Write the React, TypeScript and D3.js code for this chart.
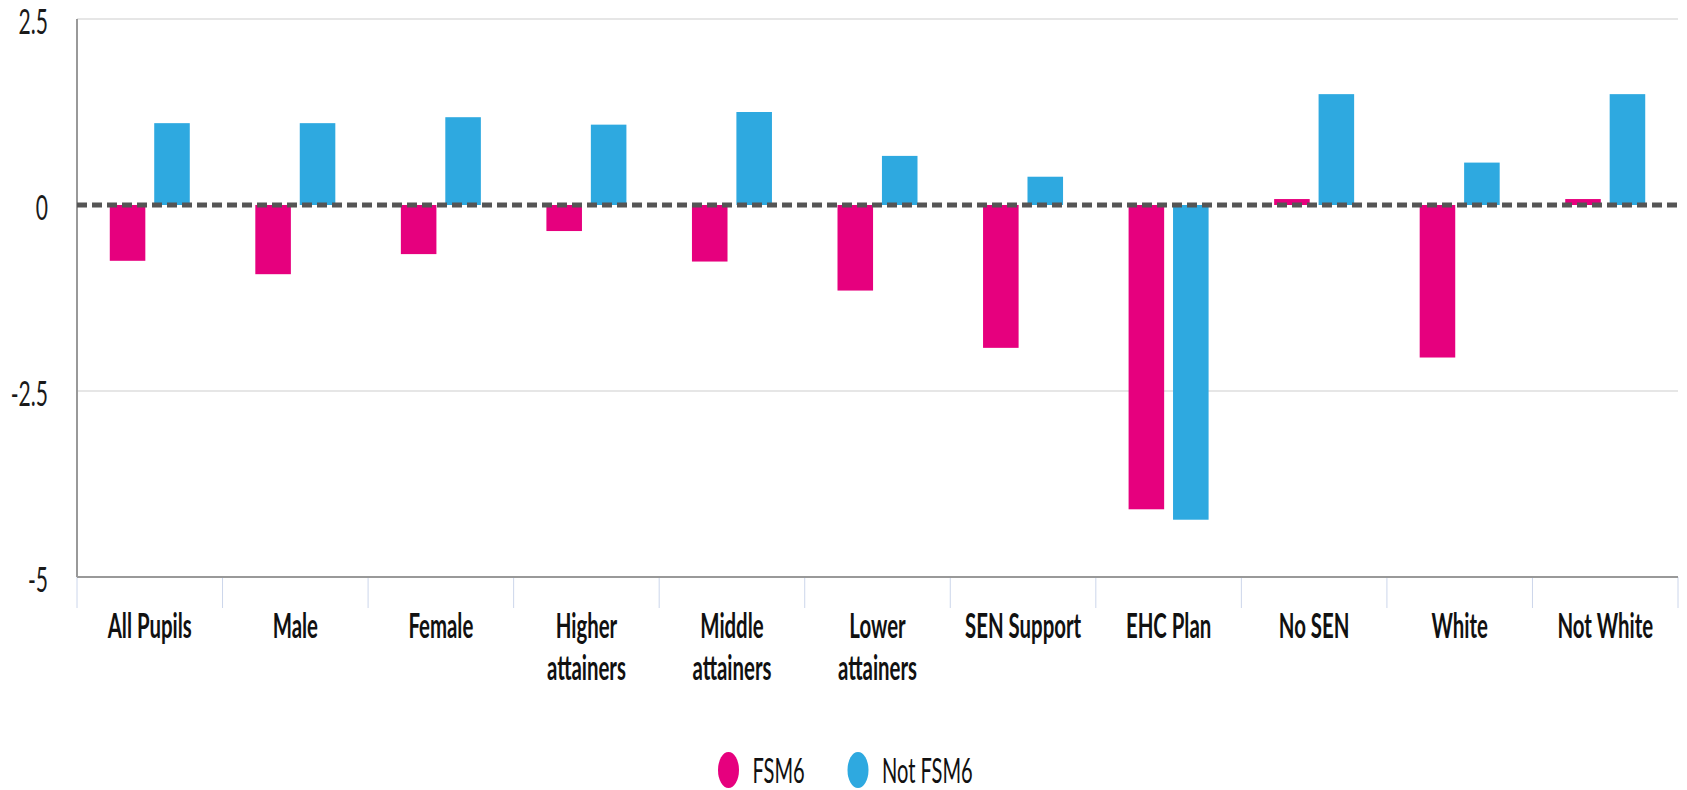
import React from "react";
import * as d3 from "d3";

const categories: string[][] = [
  ["All Pupils"],
  ["Male"],
  ["Female"],
  ["Higher", "attainers"],
  ["Middle", "attainers"],
  ["Lower", "attainers"],
  ["SEN Support"],
  ["EHC Plan"],
  ["No SEN"],
  ["White"],
  ["Not White"],
];
const fsm6: number[] = [-0.75, -0.93, -0.66, -0.35, -0.76, -1.15, -1.92, -4.09, 0.08, -2.05, 0.08];
const notFsm6: number[] = [1.1, 1.1, 1.18, 1.08, 1.25, 0.66, 0.38, -4.23, 1.49, 0.57, 1.49];
const seriesNames = ["FSM6", "Not FSM6"];
const seriesColors = ["#e6007e", "#2ea9e0"];
const yTicks: number[] = [2.5, 0, -2.5, -5];
const yTickLabels: string[] = ["2.5", "0", "-2.5", "-5"];

const W = 1687;
const H = 790;
const left = 77;
const right = 1678;
const top = 19;
const bottom = 577;

const FONT = "Lato, 'Open Sans', sans-serif";

export default function App() {
  const x0 = d3
    .scaleBand<number>()
    .domain(categories.map((_, i) => i))
    .range([left, right])
    .paddingInner(0)
    .paddingOuter(0);
  const bw = x0.bandwidth();
  const x1 = d3
    .scaleBand<number>()
    .domain([0, 1])
    .range([bw / 2 - 40, bw / 2 + 40])
    .paddingInner(0.2);
  const y = d3.scaleLinear().domain([-5, 2.5]).range([bottom, top]);
  const series = [fsm6, notFsm6];

  const tickXs = categories.map((_, i) => x0(i)!).concat([right]);

  return (
    <svg
      width={W}
      height={H}
      style={{ position: "absolute", left: 0, top: 0, background: "#fff" }}
    >
      {/* gridlines */}
      {yTicks
        .filter((t) => t !== 0 && t !== -5)
        .map((t) => (
          <line key={"g" + t} x1={left} x2={right} y1={y(t)} y2={y(t)} stroke="#e6e6e6" strokeWidth={2} />
        ))}
      {/* category ticks */}
      {tickXs.map((tx, i) => (
        <line key={"t" + i} x1={tx} x2={tx} y1={bottom} y2={608} stroke="#ccd6eb" strokeWidth={1} />
      ))}
      {/* bars */}
      {series.map((vals, s) =>
        vals.map((v, i) => {
          const y0 = y(0);
          const yv = y(v);
          return (
            <rect
              key={s + "-" + i}
              x={x0(i)! + x1(s)!}
              width={x1.bandwidth()}
              y={Math.min(y0, yv)}
              height={Math.abs(yv - y0)}
              fill={seriesColors[s]}
            />
          );
        })
      )}
      {/* axes */}
      <line x1={left} x2={left} y1={top} y2={bottom} stroke="#999" strokeWidth={2} />
      <line x1={left} x2={right} y1={bottom} y2={bottom} stroke="#999" strokeWidth={2} />
      {/* zero dashed line */}
      <line
        x1={left}
        x2={right}
        y1={y(0)}
        y2={y(0)}
        stroke="#555"
        strokeWidth={5}
        strokeDasharray="10,5"
      />
      {/* y labels */}
      {yTicks.map((t, i) => (
        <text
          key={"yl" + t}
          transform={`translate(48,${y(t) + 15}) scale(0.62,1)`}
          textAnchor="end"
          fontFamily={FONT}
          fontSize={34}
          fill="#1a1a1a"
        >
          {yTickLabels[i]}
        </text>
      ))}
      {/* category labels */}
      {categories.map((lines, i) => {
        const cx = x0(i)! + bw / 2;
        return (
          <text
            key={"c" + i}
            transform={`translate(${cx},638) scale(0.6,1)`}
            textAnchor="middle"
            fontFamily={FONT}
            fontWeight="bold"
            fontSize={34}
            fill="#111"
          >
            {lines.map((l, j) => (
              <tspan key={j} x={0} y={j * 42}>
                {l}
              </tspan>
            ))}
          </text>
        );
      })}
      {/* legend */}
      {seriesNames.map((name, s) => {
        const ex = s === 0 ? 728.5 : 858;
        return (
          <g key={"lg" + s}>
            <ellipse cx={ex} cy={770} rx={10.5} ry={18} fill={seriesColors[s]} />
            <text
              transform={`translate(${ex + 24},783) scale(0.59,1)`}
              fontFamily={FONT}
              fontSize={34}
              fill="#111"
            >
              {name}
            </text>
          </g>
        );
      })}
    </svg>
  );
}
